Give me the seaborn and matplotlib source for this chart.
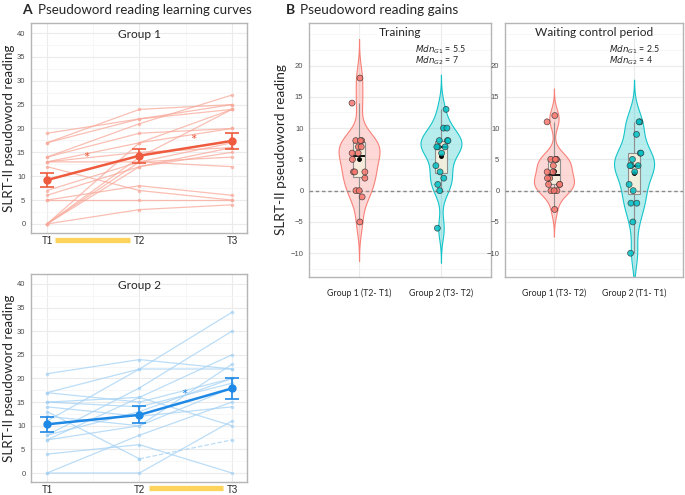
import numpy as np
import pandas as pd
import matplotlib
matplotlib.use("Agg")
import matplotlib.pyplot as plt
import matplotlib.transforms as mtransforms
from matplotlib.ticker import MultipleLocator
from matplotlib.colors import to_rgba
import seaborn as sns

# time points
times = ["T1", "T2", "T3"]

# group 1 individual scores
g1_t1 = [19, 17, 17, 14, 14, 13, 13, 13, 12, 7, 6, 5, 5, 0, 0, 0, 0, 0]
g1_t2 = [22, 24, 22, 21, 19, 13, 17, 15, 7, 13, 12, 5, 8, 17, 14, 12, 3, 13]
g1_t3 = [25, 25, 24, 27, 20, 14, 20, 16, 5, 17, 15, 5, 6, 24, 24, 16, 4, 12]
g1_mean = [9.2, 14.3, 17.4]
g1_se = [1.55, 1.45, 1.65]

# group 2 individual scores
g2_t1 = [21, 17, 11, 17, 15, 13, 14, 8, 7, 12, 8, 7, 4, 0, 0, 15]
g2_t2 = [24, 22, 22, 15, 14, 3, 12, 18, 16, 10, 13, 10, 6, 8, 0, 16]
g2_t3 = [22, 22, 34, 20, 19, 7, 14, 30, 25, 18, 20, 23, 0, 15, 11, 10]
g2_dashed = 5  # participant whose T2->T3 segment is dashed
g2_mean = [10.3, 12.3, 17.9]
g2_se = [1.6, 1.8, 2.15]

# gains (panel B)
train_labels = ["Group 1 (T2- T1)", "Group 2 (T3- T2)"]
train_g1 = [-5, -1, 0, 0, 2, 3, 3, 3, 5, 6, 6, 7, 7, 8, 8, 8, 14, 18]
train_g2 = [-6, 0, 1, 2, 3, 4, 6, 7, 7, 7, 8, 8, 8, 10, 10, 13]
wait_labels = ["Group 1 (T3- T2)", "Group 2 (T1- T1)"]
wait_g1 = [-3, 0, 0, 0, 1, 1, 1, 2, 2, 3, 3, 4, 5, 5, 5, 5, 11, 12]
wait_g2 = [-10, -5, -2, -2, 0, 1, 3, 4, 4, 4, 5, 6, 6, 9, 11, 11]
train_mdn = ["5.5", "7"]
wait_mdn = ["2.5", "4"]

red = "#F8766D"
teal = "#00BFC4"

sns.set_theme(style="white")
plt.rcParams["font.family"] = ["Lato", "DejaVu Sans"]

fig = plt.figure(figsize=(6.85, 4.95), dpi=100)
W, H = 685, 495


def box(l, t, r, b):
    return [l / W, 1 - b / H, (r - l) / W, (b - t) / H]


def style_axes(ax):
    ax.set_facecolor("white")
    ax.grid(True, which="major", color="#EBEBEB", lw=0.8)
    ax.grid(True, which="minor", color="#F4F4F4", lw=0.5)
    ax.set_axisbelow(True)
    for s in ax.spines.values():
        s.set_color("#B5B5B5")
        s.set_linewidth(1.0)
    ax.tick_params(axis="both", length=2, color="#B5B5B5", pad=2)
    ax.tick_params(axis="y", labelsize=5.5, labelcolor="#4D4D4D")
    for t in ax.get_yticklabels():
        t.set_fontfamily("Liberation Sans")


def curves(ax, t1, t2, t3, mean, se, light, dark, title, dashed=None):
    rows = []
    for i, vals in enumerate(zip(t1, t2, t3)):
        for j, v in enumerate(vals):
            if dashed is not None and i == dashed and j == 2:
                continue
            rows.append({"id": i, "t": j, "score": v})
    df = pd.DataFrame(rows)
    sns.lineplot(data=df, x="t", y="score", units="id", estimator=None,
                 color=light, lw=0.9, alpha=0.75, marker="o", markersize=2.5,
                 markeredgewidth=0, ax=ax)
    if dashed is not None:
        dd = pd.DataFrame({"t": [1, 2], "score": [t2[dashed], t3[dashed]]})
        sns.lineplot(data=dd, x="t", y="score", color=light, lw=0.9, alpha=0.75,
                     linestyle="--", marker="o", markersize=2.5,
                     markeredgewidth=0, ax=ax)
    ax.errorbar([0, 1, 2], mean, yerr=se, color=dark, lw=1.8, marker="o", ms=5,
                capsize=5, capthick=1.2, elinewidth=1.2, zorder=5)
    ax.set_xlim(-0.173, 2.163)
    ax.set_ylim(-1.9, 42.1)
    ax.set_xticks([0, 1, 2])
    ax.set_xticklabels(times, fontsize=7, fontfamily="Liberation Sans")
    ax.set_yticks(range(0, 41, 5))
    ax.yaxis.set_minor_locator(MultipleLocator(2.5))
    ax.xaxis.set_minor_locator(MultipleLocator(0.5))
    ax.set_xlabel("")
    ax.set_ylabel("")
    style_axes(ax)
    ax.tick_params(axis="x", length=1.5, pad=1)
    ax.text(0.5, 0.943, title, transform=ax.transAxes, ha="center", va="center",
            fontsize=8.6)


ax1 = fig.add_axes(box(31, 23, 247, 233))
curves(ax1, g1_t1, g1_t2, g1_t3, g1_mean, g1_se, "#F9A99A", "#EE5B3E", "Group 1")
ax1.text(0.43, 13.6, "*", color="#EE5B3E", fontsize=11, ha="center", va="center")
ax1.text(1.58, 17.4, "*", color="#EE5B3E", fontsize=11, ha="center", va="center")
tr = mtransforms.blended_transform_factory(ax1.transData, ax1.transAxes)
ax1.plot([0.09, 0.9], [-0.034, -0.034], color="#FDD35C", lw=3.8,
         solid_capstyle="butt", transform=tr, clip_on=False)

ax2 = fig.add_axes(box(31, 274, 247, 482))
curves(ax2, g2_t1, g2_t2, g2_t3, g2_mean, g2_se, "#A5D2F5", "#1E88E5", "Group 2",
       dashed=g2_dashed)
ax2.text(1.48, 16.3, "*", color="#1E88E5", fontsize=11, ha="center", va="center")
tr = mtransforms.blended_transform_factory(ax2.transData, ax2.transAxes)
ax2.plot([1.1, 1.9], [-0.03, -0.03], color="#FDD35C", lw=3.8,
         solid_capstyle="butt", transform=tr, clip_on=False)


def gains(ax, labels, v1, v2, title, mdn):
    df = pd.DataFrame({"grp": [labels[0]] * len(v1) + [labels[1]] * len(v2),
                       "gain": v1 + v2})
    sns.violinplot(data=df, x="grp", y="gain", hue="grp", order=labels,
                   hue_order=labels, palette=[red, teal], inner=None, width=0.5,
                   bw_method="silverman", bw_adjust=0.65, cut=3, linewidth=0.8,
                   legend=False, ax=ax)
    for coll, col in zip(ax.collections, [red, teal]):
        coll.set_facecolor(to_rgba(col, 0.28))
        coll.set_edgecolor(to_rgba(col, 0.9))
    sns.boxplot(data=df, x="grp", y="gain", order=labels, width=0.15,
                showfliers=False, showcaps=False, linewidth=0.8,
                linecolor="#8F8F8F",
                boxprops=dict(facecolor=to_rgba("#F7EFDC", 0.9)),
                medianprops=dict(color="black", lw=1.3),
                showmeans=True,
                meanprops=dict(marker="o", markerfacecolor="black",
                               markeredgecolor="black", markersize=2.5),
                ax=ax)
    np.random.seed(3)
    sns.stripplot(data=df, x="grp", y="gain", hue="grp", order=labels,
                  hue_order=labels, palette=[red, teal], jitter=0.09, size=4.3,
                  edgecolor="#333333", linewidth=0.5, alpha=0.85, legend=False,
                  ax=ax, zorder=4)
    ax.axhline(0, color="#8A8A8A", lw=1, ls=(0, (2.5, 2)), zorder=3)
    ax.set_xlim(-0.611, 1.611)
    ax.set_ylim(-13.8, 26.8)
    ax.set_yticks(range(-10, 21, 5))
    ax.yaxis.set_minor_locator(MultipleLocator(2.5))
    ax.set_xlabel("")
    ax.set_ylabel("")
    style_axes(ax)
    ax.tick_params(axis="x", labelsize=6.3, pad=6)
    ax.text(0.5, 0.985, title, transform=ax.transAxes, ha="center", va="top",
            fontsize=8.6, bbox=dict(facecolor="white", edgecolor="none", pad=1))
    ax.text(0.585, 0.894, r"$\mathit{Mdn}_{G1}$ = " + mdn[0], transform=ax.transAxes,
            ha="left", va="center", fontsize=6.3)
    ax.text(0.585, 0.85, r"$\mathit{Mdn}_{G2}$ = " + mdn[1], transform=ax.transAxes,
            ha="left", va="center", fontsize=6.3)


ax3 = fig.add_axes(box(309, 23, 491, 277))
gains(ax3, train_labels, train_g1, train_g2, "Training", train_mdn)
ax4 = fig.add_axes(box(505, 23, 683, 277))
gains(ax4, wait_labels, wait_g1, wait_g2, "Waiting control period", wait_mdn)

# panel letters, titles, y labels
fig.text(22 / W, 1 - 10 / H, "A", fontsize=10, fontweight="bold", va="center")
fig.text(38 / W, 1 - 10 / H, "Pseudoword reading learning curves", fontsize=9.6,
         va="center")
fig.text(286 / W, 1 - 10 / H, "B", fontsize=10, fontweight="bold", va="center")
fig.text(300 / W, 1 - 10 / H, "Pseudoword reading gains", fontsize=9.8, va="center")
ylab = "SLRT-II pseudoword reading"
fig.text(9 / W, 1 - 128 / H, ylab, rotation=90, ha="center", va="center",
         fontsize=9.6)
fig.text(9 / W, 1 - 378 / H, ylab, rotation=90, ha="center", va="center",
         fontsize=9.6)
fig.text(281 / W, 1 - 150 / H, ylab, rotation=90, ha="center", va="center",
         fontsize=9.8)

fig.savefig("out.png", dpi=100)
